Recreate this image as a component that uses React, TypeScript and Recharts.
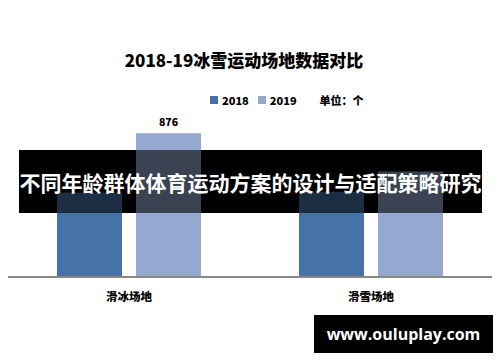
import React from 'react';
import { BarChart, Bar, XAxis, YAxis, LabelList } from 'recharts';

const categories = ['滑冰场地', '滑雪场地'];
const values2018 = [515, 520];
const values2019 = [876, 644];
const seriesNames = ['2018', '2019'];
const unitText = '单位：个';
const titleText = '2018-19冰雪运动场地数据对比';
const bannerText = '不同年龄群体体育运动方案的设计与适配策略研究';
const siteText = 'www.ouluplay.com';

const C2018 = '#4573a7';
const C2019 = '#95a9d0';
const FONT = '"Noto Sans CJK SC", "Noto Sans", sans-serif';

const data = categories.map((name, i) => ({ name, y2018: values2018[i], y2019: values2019[i] }));

const CatTick = (props: any) => {
  const { x, y, payload } = props;
  return (
    <text x={x} y={y + 19} textAnchor="middle" dominantBaseline="middle" fontFamily={FONT} fontSize={11.5} fontWeight={900} fill="#000">
      {payload.value}
    </text>
  );
};

// only the first 2019 bar carries a value label
const TopLabel = (props: any) => {
  const { x, y, width, value, index } = props;
  if (index !== 0) return null;
  return (
    <text x={x + width / 2} y={y - 10} textAnchor="middle" dominantBaseline="middle" fontFamily={FONT} fontSize={10.5} fontWeight={900} fill="#000">
      {value}
    </text>
  );
};

const LegendBox = () => (
  <div style={{ position: 'absolute', left: 210, top: 92, height: 16, display: 'flex', alignItems: 'center', fontFamily: FONT, fontSize: 11, fontWeight: 900, color: '#000' }}>
    {seriesNames.map((s, i) => (
      <span key={s} style={{ display: 'flex', alignItems: 'center', marginRight: 9 }}>
        <span style={{ width: 8, height: 8, background: i === 0 ? C2018 : C2019, marginRight: 4, display: 'inline-block' }} />
        {s}
      </span>
    ))}
    <span style={{ marginLeft: 14 }}>{unitText}</span>
  </div>
);

const Chart = ({ barsOnly }: { barsOnly?: boolean }) => (
  <BarChart width={500} height={362} data={data} margin={{ top: 113, right: 8, bottom: 55, left: 8 }} barSize={65} barGap={14}>
    <XAxis
      dataKey="name"
      height={30}
      axisLine={barsOnly ? false : { stroke: '#888', strokeWidth: 2 }}
      tickLine={false}
      tickSize={0}
      tick={barsOnly ? false : <CatTick />}
    />
    <YAxis hide domain={[0, 1000]} />
    <Bar dataKey="y2018" name="2018" fill={C2018} isAnimationActive={false} />
    <Bar dataKey="y2019" name="2019" fill={C2019} isAnimationActive={false}>
      {!barsOnly && <LabelList dataKey="y2019" content={<TopLabel />} />}
    </Bar>
  </BarChart>
);

export default function App() {
  return (
    <div style={{ position: 'fixed', left: 0, top: 0, width: 500, height: 362, background: '#fff', overflow: 'hidden' }}>
      <div style={{ position: 'absolute', left: -6, top: 47, width: 500, textAlign: 'center', fontFamily: FONT, fontSize: 17, fontWeight: 900, color: '#000', lineHeight: '26px' }}>
        {titleText}
      </div>
      <LegendBox />
      <div style={{ position: 'absolute', left: 0, top: 0 }}>
        <Chart />
      </div>
      {/* dark banner: the bars show through it at reduced strength */}
      <div style={{ position: 'absolute', left: 19, top: 150, width: 463, height: 63, background: '#000', overflow: 'hidden' }}>
        <div style={{ position: 'absolute', left: -19, top: -150, opacity: 0.4 }}>
          <Chart barsOnly />
        </div>
        <div style={{ position: 'absolute', left: 0, top: 0, width: 463, height: 63, display: 'flex', alignItems: 'center', justifyContent: 'center', fontFamily: FONT, fontSize: 21, fontWeight: 700, color: '#fff', whiteSpace: 'nowrap' }}>
          {bannerText}
        </div>
      </div>
      <div style={{ position: 'absolute', left: 314, top: 315, width: 179, height: 38, background: '#000', display: 'flex', alignItems: 'center', justifyContent: 'center', fontFamily: '"Open Sans", sans-serif', fontSize: 16, fontWeight: 700, color: '#fff' }}>
        {siteText}
      </div>
    </div>
  );
}
